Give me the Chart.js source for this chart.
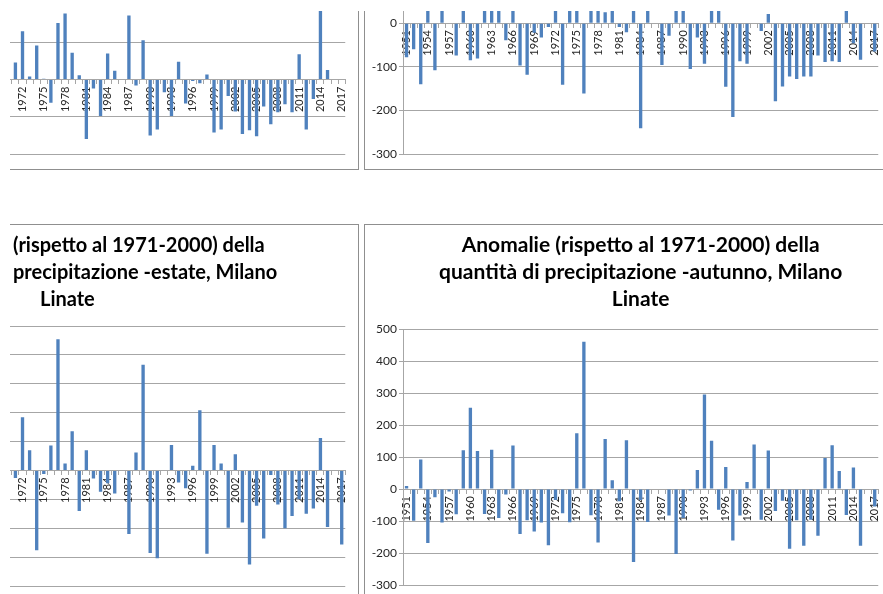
<!DOCTYPE html>
<html>
<head>
<meta charset="utf-8">
<script src="https://cdn.jsdelivr.net/npm/chart.js@4.4.1/dist/chart.umd.min.js"></script>
<style>
  html, body { margin: 0; padding: 0; background: #fff; }
  body { width: 883px; height: 594px; position: relative; overflow: hidden; }
  .clip { position: absolute; overflow: hidden; }
  .frame { position: absolute; border: 1px solid #8f8f8f; box-sizing: border-box; background: #fff; }
  .frame canvas { position: absolute; left: 0; top: 0; }
  .tline { position: absolute; font: bold 20px Lato, sans-serif; color: #000; white-space: nowrap; line-height: 27px; }
</style>
</head>
<body>

<!-- in alto a sinistra: grafico tagliato a sinistra e in alto -->
<div class="clip" style="left:10px; top:11px; width:350px; height:160px;">
  <div class="frame" style="left:-179px; top:-121px; width:528px; height:280px;">
    <canvas id="chartTL" width="526" height="278"></canvas>
  </div>
</div>

<!-- in alto a destra -->
<div class="clip" style="left:364px; top:11px; width:519px; height:160px;">
  <div class="frame" style="left:0px; top:-121px; width:528px; height:280px;">
    <canvas id="chartTR" width="526" height="278"></canvas>
  </div>
</div>

<!-- in basso a sinistra: estate -->
<div class="clip" style="left:10px; top:224px; width:350px; height:370px;">
  <div class="frame" style="left:-179px; top:0px; width:528px; height:400px;">
    <canvas id="chartBL" width="526" height="398"></canvas>
  </div>
  <div class="tline" style="left:3px; top:7px;">(rispetto al 1971-2000) della</div>
  <div class="tline" style="left:3px; top:34px;">precipitazione -estate, Milano</div>
  <div class="tline" style="left:30px; top:61px;">Linate</div>
</div>

<!-- in basso a destra: autunno -->
<div class="clip" style="left:364px; top:224px; width:519px; height:370px;">
  <div class="frame" style="left:0px; top:0px; width:528px; height:400px;">
    <canvas id="chartBR" width="526" height="398"></canvas>
  </div>
</div>

<script>
// Anni (categorie)
const years = ['1951','1952','1953','1954','1955','1956','1957','1958','1959','1960',
  '1961','1962','1963','1964','1965','1966','1967','1968','1969','1970',
  '1971','1972','1973','1974','1975','1976','1977','1978','1979','1980',
  '1981','1982','1983','1984','1985','1986','1987','1988','1989','1990',
  '1991','1992','1993','1994','1995','1996','1997','1998','1999','2000',
  '2001','2002','2003','2004','2005','2006','2007','2008','2009','2010',
  '2011','2012','2013','2014','2015','2016','2017'];

// Anomalie (null = parte non visibile)
const anomTopLeft = [null,null,null,null,null,null,null,null,null,null,
  null,null,null,null,null,null,null,null,null,-3,
  23,65,4,46,1,-31,76,89,36,6,
  -80,-12,-49,35,12,0,86,-8,53,-75,
  -67,-17,-49,24,-32,-2,-5,7,-71,-67,
  -22,-43,-73,-68,-76,-36,-60,-44,-33,-44,
  34,-67,-26,100,13,0,0];

const anomTopRight = [-78,-60,-140,60,-108,90,1,-74,150,-85,
  -81,40,120,80,-39,110,-97,-118,-22,-33,
  -9,130,-141,70,100,-161,140,60,25,90,
  -9,-21,50,-241,40,0,-96,-29,70,50,
  -105,-33,-93,80,60,-146,-215,-87,-93,0,
  -18,21,-179,-145,-122,-128,-122,-122,-74,-89,
  -87,-89,120,-46,-84,0,-65];

const anomEstate = [null,null,null,null,null,null,null,null,null,null,
  null,null,null,null,null,null,null,null,null,-48,
  -13,92,35,-138,-6,43,227,12,68,-70,
  35,-14,-37,-22,-40,0,-110,31,183,-143,
  -152,0,44,-21,-31,8,104,-144,44,12,
  -99,28,-90,-163,-61,-118,-8,-59,-100,-79,
  -50,-75,-66,56,-98,0,-128];

const anomAutunno = [9,-99,92,-169,-26,-105,-8,-79,121,254,
  119,-78,123,-91,-17,136,-141,-98,-133,-105,
  -176,-34,-76,-104,174,460,-82,-167,156,27,
  -38,152,-228,-34,-103,0,0,-83,-203,-91,
  -5,59,295,151,-65,69,-161,-83,22,139,
  -96,120,-69,-37,-187,-98,-177,-96,-146,97,
  137,56,-81,67,-177,0,-55];

// Valori delle tacche dell'asse y
const yTicksTopLeft = [150, 100, 50, 0, -50, -100];
const yTicksTopRight = [200, 100, 0, -100, -200, -300];
const yTicksEstate = [250, 200, 150, 100, 50, 0, -50, -100, -150, -200];
const yTicksAutunno = [500, 400, 300, 200, 100, 0, -100, -200, -300];

const titleAutunno = ['Anomalie (rispetto al 1971-2000) della',
  'quantità di precipitazione -autunno, Milano', 'Linate'];

const BAR = '#4f81bd';
const GRID = '#a6a6a6';
const TEXT = '#262626';

function barChart(id, values, yTicks, pad, title) {
  const max = Math.max(...yTicks);
  const min = Math.min(...yTicks);
  const step = yTicks[0] - yTicks[1];

  return new Chart(document.getElementById(id), {
    type: 'bar',
    data: {
      labels: years,
      datasets: [{
        data: values,
        backgroundColor: BAR,
        borderWidth: 0,
        barPercentage: 0.47,
        categoryPercentage: 1
      }]
    },
    options: {
      responsive: false,
      animation: false,
      layout: { padding: { left: 0, right: 11, top: pad.top, bottom: pad.bottom } },
      plugins: {
        legend: { display: false },
        tooltip: { enabled: false },
        title: title ? {
          display: true,
          text: title,
          fullSize: false,
          color: '#000',
          font: { family: 'Lato', size: 21, weight: 'bold', lineHeight: 27 / 21 },
          padding: { top: 6.5, bottom: 16.5 }
        } : { display: false }
      },
      scales: {
        x: {
          position: { y: 0 },
          grid: { drawOnChartArea: false, drawTicks: true, tickLength: 4, color: GRID },
          border: { display: true, color: GRID },
          ticks: {
            autoSkip: false,
            minRotation: 90,
            maxRotation: 90,
            padding: 3,
            color: TEXT,
            font: { family: 'Lato', size: 11 },
            // un'etichetta ogni 3 anni, come in Excel
            callback(value, index) {
              return index % 3 === 0 ? this.getLabelForValue(value) : '';
            }
          }
        },
        y: {
          min: min,
          max: max,
          afterFit(scale) { scale.width = 38; },
          grid: { color: GRID, tickLength: 4 },
          border: { display: true, color: GRID },
          ticks: {
            stepSize: step,
            padding: 2,
            color: TEXT,
            font: { family: 'Lato', size: 12 }
          }
        }
      }
    }
  });
}

barChart('chartTL', anomTopLeft, yTicksTopLeft, { top: 77, bottom: 15 });
barChart('chartTR', anomTopRight, yTicksTopRight, { top: 45, bottom: 15 });
barChart('chartBL', anomEstate, yTicksEstate, { top: 101, bottom: 37 });
barChart('chartBR', anomAutunno, yTicksAutunno, { top: 0, bottom: 38 }, titleAutunno);
</script>
</body>
</html>
